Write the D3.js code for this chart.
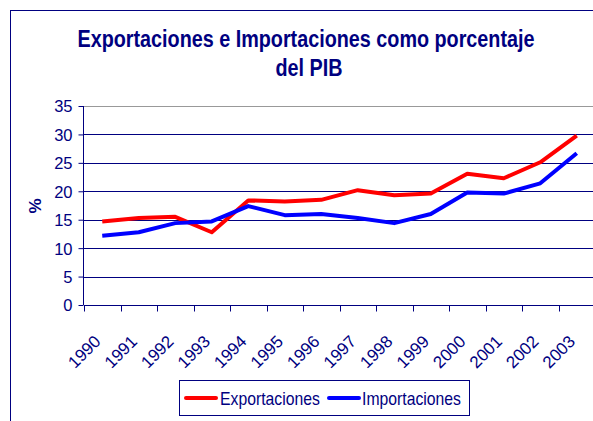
<!DOCTYPE html>
<html lang="es">
<head>
<meta charset="utf-8">
<title>Exportaciones e Importaciones como porcentaje del PIB</title>
<script src="https://cdn.jsdelivr.net/npm/d3@7"></script>
<style>
  body { margin: 0; background: #fff; }
  text { font-family: "Liberation Sans", Arial, sans-serif; fill: #000080; }
</style>
</head>
<body>
<script>
// data
var years = ["1990", "1991", "1992", "1993", "1994", "1995", "1996",
             "1997", "1998", "1999", "2000", "2001", "2002", "2003"];
var exportaciones = [14.7, 15.3, 15.5, 12.8, 18.4, 18.2, 18.5, 20.2, 19.3, 19.6, 23.1, 22.3, 25.1, 29.8];
var importaciones = [12.2, 12.8, 14.4, 14.7, 17.4, 15.8, 16.0, 15.3, 14.4, 16.0, 19.8, 19.6, 21.4, 26.7];
var yTicks = [0, 5, 10, 15, 20, 25, 30, 35];

var w = 593, h = 421;
var navy = "#000080";

var svg = d3.select("body").append("svg")
  .attr("width", w)
  .attr("height", h);

// outer chart frame (only left/top visible in the crop)
svg.append("rect")
  .attr("x", 10.5).attr("y", 10.5)
  .attr("width", 640).attr("height", 440)
  .attr("fill", "none")
  .attr("stroke", navy);

var x = d3.scaleBand()
  .domain(years)
  .range([84, 595]);

var y = d3.scaleLinear()
  .domain([0, 35])
  .range([305, 106]);

// gridlines
svg.append("g")
  .selectAll("line")
  .data(yTicks.slice(1))
  .enter().append("line")
  .attr("x1", 84).attr("x2", 595)
  .attr("y1", function(d) { return Math.round(y(d)) + 0.5; })
  .attr("y2", function(d) { return Math.round(y(d)) + 0.5; })
  .attr("stroke", function(d) { return d === 35 ? "#999999" : navy; })
  .attr("stroke-width", 1);

// y axis
var yAxis = d3.axisLeft(y).tickValues(yTicks).tickSize(5).tickPadding(6);
var gy = svg.append("g")
  .attr("transform", "translate(83.5,0)")
  .call(yAxis);
gy.select(".domain").attr("stroke", navy).attr("d", "M0," + y(35) + "V" + y(0));
gy.selectAll(".tick line").attr("stroke", navy);
gy.selectAll(".tick text").attr("fill", navy).style("font-size", "16.5px").attr("dy", "0.36em");

// x axis: labels from the band scale, ticks at category boundaries
var xAxis = d3.axisBottom(x).tickSize(0).tickFormat(function(d) { return d; });
var gx = svg.append("g")
  .attr("transform", "translate(0,305.5)")
  .call(xAxis);
gx.select(".domain").attr("stroke", navy).attr("d", "M84,0H595");
gx.selectAll(".tick text")
  .attr("fill", navy)
  .style("font-size", "17px")
  .attr("text-anchor", "end")
  .attr("y", 0).attr("dy", 0)
  .attr("transform", "translate(-0.5,37) rotate(-45)");

var bounds = years.map(function(d) { return x(d); }).concat([x(years[years.length - 1]) + x.bandwidth()]);
gx.selectAll("line.bound")
  .data(bounds)
  .enter().append("line")
  .attr("class", "bound")
  .attr("x1", function(d) { return Math.round(d) + 0.5; })
  .attr("x2", function(d) { return Math.round(d) + 0.5; })
  .attr("y1", 0).attr("y2", 6)
  .attr("stroke", navy);

// lines
var line = d3.line()
  .x(function(d, i) { return x(years[i]) + x.bandwidth() / 2; })
  .y(function(d) { return y(d); });

svg.append("path")
  .datum(exportaciones)
  .attr("d", line)
  .attr("fill", "none")
  .attr("stroke", "#ff0000")
  .attr("stroke-width", 4)
  .attr("stroke-linejoin", "round");

svg.append("path")
  .datum(importaciones)
  .attr("d", line)
  .attr("fill", "none")
  .attr("stroke", "#0000ff")
  .attr("stroke-width", 4)
  .attr("stroke-linejoin", "round");

// condensed text helper (the original uses a narrow face)
function narrowText(parent, tx, ty, sx, size, weight, anchor, str) {
  return parent.append("text")
    .attr("transform", "translate(" + tx + "," + ty + ") scale(" + sx + ",1)")
    .attr("text-anchor", anchor)
    .style("font-size", size + "px")
    .style("font-weight", weight)
    .text(str);
}

// title
narrowText(svg, 306, 47, 0.86, 23, "bold", "middle", "Exportaciones e Importaciones como porcentaje");
narrowText(svg, 309, 76, 0.86, 23, "bold", "middle", "del PIB");

// y label
svg.append("text")
  .attr("transform", "translate(41,206) rotate(-90)")
  .attr("text-anchor", "middle")
  .style("font-size", "17px")
  .style("font-weight", "bold")
  .text("%");

// legend
var legend = svg.append("g");
legend.append("rect")
  .attr("x", 179.5).attr("y", 380.5)
  .attr("width", 290).attr("height", 35)
  .attr("fill", "#fff")
  .attr("stroke", navy);

var series = [
  { name: "Exportaciones", color: "#ff0000", x: 186, tx: 220 },
  { name: "Importaciones", color: "#0000ff", x: 329, tx: 362 }
];
series.forEach(function(s) {
  legend.append("line")
    .attr("x1", s.x).attr("x2", s.x + 30)
    .attr("y1", 398).attr("y2", 398)
    .attr("stroke", s.color)
    .attr("stroke-width", 4)
    .attr("stroke-linecap", "round");
  narrowText(legend, s.tx, 404.5, 0.83, 19, "normal", "start", s.name);
});
</script>
</body>
</html>
